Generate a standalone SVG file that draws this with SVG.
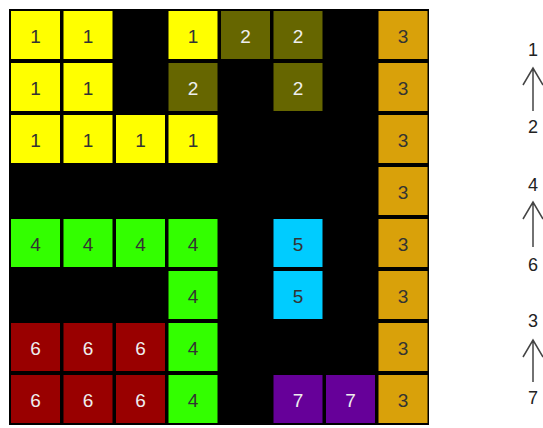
<svg xmlns="http://www.w3.org/2000/svg" width="543" height="428" viewBox="0 0 543 428">
<style>
text{font-family:"Liberation Sans",Arial,sans-serif;font-size:19px;text-anchor:middle;dominant-baseline:central}
.y{fill:#ffff00}.o{fill:#666600}.g{fill:#d9a10a}.l{fill:#33ff00}.b{fill:#00ccff}.r{fill:#990000}.p{fill:#660099}
.dk{fill:#333}.wt{fill:#eee}
.lg{fill:#222;font-size:18px}
.a{fill:none;stroke:#444;stroke-width:1.5}
</style>
<rect x="9" y="9" width="420" height="416" fill="#000"/>
<g id="n1">
<rect class="y" x="11" y="11" width="49" height="48"/><text class="dk" x="35.5" y="36">1</text>
<rect class="y" x="63.5" y="11" width="49" height="48"/><text class="dk" x="88" y="36">1</text>
<rect class="y" x="168.5" y="11" width="49" height="48"/><text class="dk" x="193" y="36">1</text>
<rect class="y" x="11" y="63" width="49" height="48"/><text class="dk" x="35.5" y="88">1</text>
<rect class="y" x="63.5" y="63" width="49" height="48"/><text class="dk" x="88" y="88">1</text>
<rect class="y" x="11" y="115" width="49" height="48"/><text class="dk" x="35.5" y="140">1</text>
<rect class="y" x="63.5" y="115" width="49" height="48"/><text class="dk" x="88" y="140">1</text>
<rect class="y" x="116" y="115" width="49" height="48"/><text class="dk" x="140.5" y="140">1</text>
<rect class="y" x="168.5" y="115" width="49" height="48"/><text class="dk" x="193" y="140">1</text>
</g>
<g id="n2">
<rect class="o" x="221" y="11" width="49" height="48"/><text class="wt" x="245.5" y="36">2</text>
<rect class="o" x="273.5" y="11" width="49" height="48"/><text class="wt" x="298" y="36">2</text>
<rect class="o" x="168.5" y="63" width="49" height="48"/><text class="wt" x="193" y="88">2</text>
<rect class="o" x="273.5" y="63" width="49" height="48"/><text class="wt" x="298" y="88">2</text>
</g>
<g id="n3">
<rect class="g" x="378.5" y="11" width="49" height="48"/><text class="dk" x="403" y="36">3</text>
<rect class="g" x="378.5" y="63" width="49" height="48"/><text class="dk" x="403" y="88">3</text>
<rect class="g" x="378.5" y="115" width="49" height="48"/><text class="dk" x="403" y="140">3</text>
<rect class="g" x="378.5" y="167" width="49" height="48"/><text class="dk" x="403" y="192">3</text>
<rect class="g" x="378.5" y="219" width="49" height="48"/><text class="dk" x="403" y="244">3</text>
<rect class="g" x="378.5" y="271" width="49" height="48"/><text class="dk" x="403" y="296">3</text>
<rect class="g" x="378.5" y="323" width="49" height="48"/><text class="dk" x="403" y="348">3</text>
<rect class="g" x="378.5" y="375" width="49" height="48"/><text class="dk" x="403" y="400">3</text>
</g>
<g id="n4">
<rect class="l" x="11" y="219" width="49" height="48"/><text class="dk" x="35.5" y="244">4</text>
<rect class="l" x="63.5" y="219" width="49" height="48"/><text class="dk" x="88" y="244">4</text>
<rect class="l" x="116" y="219" width="49" height="48"/><text class="dk" x="140.5" y="244">4</text>
<rect class="l" x="168.5" y="219" width="49" height="48"/><text class="dk" x="193" y="244">4</text>
<rect class="l" x="168.5" y="271" width="49" height="48"/><text class="dk" x="193" y="296">4</text>
<rect class="l" x="168.5" y="323" width="49" height="48"/><text class="dk" x="193" y="348">4</text>
<rect class="l" x="168.5" y="375" width="49" height="48"/><text class="dk" x="193" y="400">4</text>
</g>
<g id="n5">
<rect class="b" x="273.5" y="219" width="49" height="48"/><text class="dk" x="298" y="244">5</text>
<rect class="b" x="273.5" y="271" width="49" height="48"/><text class="dk" x="298" y="296">5</text>
</g>
<g id="n6">
<rect class="r" x="11" y="323" width="49" height="48"/><text class="wt" x="35.5" y="348">6</text>
<rect class="r" x="63.5" y="323" width="49" height="48"/><text class="wt" x="88" y="348">6</text>
<rect class="r" x="116" y="323" width="49" height="48"/><text class="wt" x="140.5" y="348">6</text>
<rect class="r" x="11" y="375" width="49" height="48"/><text class="wt" x="35.5" y="400">6</text>
<rect class="r" x="63.5" y="375" width="49" height="48"/><text class="wt" x="88" y="400">6</text>
<rect class="r" x="116" y="375" width="49" height="48"/><text class="wt" x="140.5" y="400">6</text>
</g>
<g id="n7">
<rect class="p" x="273.5" y="375" width="49" height="48"/><text class="wt" x="298" y="400">7</text>
<rect class="p" x="326" y="375" width="49" height="48"/><text class="wt" x="350.5" y="400">7</text>
</g>
<g id="legend1"><text class="lg" x="533" y="50">1</text><text class="lg" x="533" y="127">2</text></g>
<g id="legend2"><text class="lg" x="533" y="185">4</text><text class="lg" x="533" y="265">6</text></g>
<g id="legend3"><text class="lg" x="533" y="321">3</text><text class="lg" x="533" y="398">7</text></g>
<g id="connectors">
<path class="a" d="M533,111V68M523,85L533,68L543,85"/>
<path class="a" d="M533,247V202M523,219L533,202L543,219"/>
<path class="a" d="M533,382V340M523,357L533,340L543,357"/>
</g>
</svg>
